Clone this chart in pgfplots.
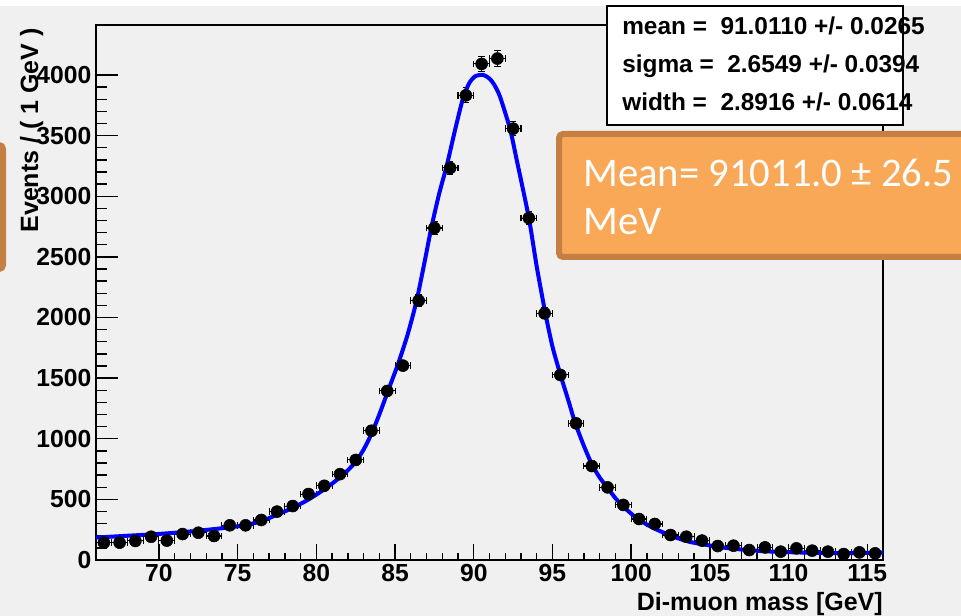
\documentclass[border=0pt]{standalone}
\usepackage{pgfplots}
\pgfplotsset{compat=1.18}
\usepackage{fontspec}
\setmainfont{Liberation Sans}
\newfontfamily\carlito{Carlito}
\definecolor{bgc}{RGB}{240,240,240}
\definecolor{orfill}{RGB}{248,168,87}
\definecolor{orline}{RGB}{196,127,66}
\begin{document}
\begin{tikzpicture}
\begin{scope}[x=0.75pt,y=-0.75pt]
\clip (0,0) rectangle (961,616);
\fill[bgc] (0,0) rectangle (961,616);
\fill[white] (0,0) rectangle (961,6);
\end{scope}
\begin{axis}[
  at={(72pt,-420pt)}, anchor=south west,
  scale only axis, width=590.25pt, height=401.25pt,
  xmin=66, xmax=116, ymin=0, ymax=4412,
  xtick={70,75,...,115}, minor x tick num=4,
  ytick={0,500,...,4000}, minor y tick num=4,
  tick align=inside, xtick pos=left, ytick pos=left,
  axis line style={line width=1pt, black},
  every tick/.style={black, line width=1pt},
  xtick style={/pgfplots/major tick length=12pt, /pgfplots/minor tick length=5.5pt},
  ytick style={/pgfplots/major tick length=16.5pt, /pgfplots/minor tick length=8.25pt},
  ticklabel style={font=\bfseries\fontsize{18.5}{20}\selectfont},
  /pgf/number format/assume math mode=true,
  /pgf/number format/1000 sep={},
  axis background/.style={fill=bgc},
]
\addplot[only marks, mark=*, mark size=4.5pt, black,
  error bars/.cd, x dir=both, x fixed=0.5, y dir=both, y explicit,
  error bar style={line width=0.8pt, black},
  error mark options={rotate=90, mark size=2.5pt, line width=0.8pt, black}]
table[x=x, y=y, y error=ey] {
x y ey
66.5 143 12.0
67.5 143 12.0
68.5 157 12.5
69.5 192 13.9
70.5 160 12.6
71.5 214 14.6
72.5 225 15.0
73.5 198 14.1
74.5 286 16.9
75.5 286 16.9
76.5 330 18.2
77.5 399 20.0
78.5 445 21.1
79.5 544 23.3
80.5 612 24.7
81.5 708 26.6
82.5 825 28.7
83.5 1066 32.6
84.5 1394 37.3
85.5 1603 40.0
86.5 2139 46.2
87.5 2738 52.3
88.5 3233 56.9
89.5 3832 61.9
90.5 4091 64.0
91.5 4135 64.3
92.5 3557 59.6
93.5 2820 53.1
94.5 2034 45.1
95.5 1526 39.1
96.5 1127 33.6
97.5 775 27.8
98.5 599 24.5
99.5 454 21.3
100.5 338 18.4
101.5 297 17.2
102.5 206 14.4
103.5 192 13.9
104.5 160 12.6
105.5 115 10.7
106.5 118 10.9
107.5 82 9.1
108.5 104 10.2
109.5 69 8.3
110.5 96 9.8
111.5 77 8.8
112.5 69 8.3
113.5 49 7.0
114.5 63 7.9
115.5 55 7.4
};
\addplot[color={rgb,255:red,0;green,0;blue,255}, line width=3pt, smooth, tension=0.4] table {
66.0 185
68.0 200
70.0 215
72.0 235
74.0 262
75.4 285
76.5 320
77.4 368
78.5 430
79.45 495
80.3 565
81.0 630
81.5 682
82.0 740
82.5 810
83.0 910
83.5 1040
84.0 1200
84.55 1394
85.2 1620
85.8 1860
86.37 2139
86.9 2474
87.3 2738
87.8 3020
88.3 3260
88.8 3540
89.3 3800
89.7 3930
90.1 3990
90.6 4000
91.0 3970
91.3 3920
91.67 3820
92.3 3557
92.73 3299
93.5 2821
94.0 2420
94.55 2034
95.0 1760
95.5 1530
96.0 1320
96.45 1127
97.0 940
97.5 790
98.0 680
98.44 605
99.0 510
99.5 440
100.45 335
101.5 258
102.7 192
103.7 150
104.8 124
106.0 100
106.9 88
108.0 76
109.0 69
111.0 61
113.3 56
115.0 58
116.0 62
};
\end{axis}
\begin{scope}[x=0.75pt,y=-0.75pt]
\clip (0,0) rectangle (961,616);
% axis titles
\node[rotate=90, anchor=base east, inner sep=0pt, font=\bfseries\fontsize{18.75}{20}\selectfont] at (38,28) {Events / ( 1 GeV )};
\node[anchor=base east, inner sep=0pt, font=\bfseries\fontsize{18.75}{20}\selectfont] at (883,610) {Di-muon mass [GeV]};
% stats box
\filldraw[fill=white, draw=black, line width=0.9pt] (607,6) rectangle (903,125);
\begin{scope}[every node/.style={anchor=base west, inner sep=0pt, font=\bfseries\fontsize{18.3}{20}\selectfont}]
\node at (622,35) {mean =~~91.0110 +/- 0.0265};
\node at (622,73) {sigma =~~2.6549 +/- 0.0394};
\node at (622,111) {width =~~2.8916 +/- 0.0614};
\end{scope}
% orange boxes
\filldraw[fill=orfill, draw=orline, line width=4.5pt, rounded corners=3pt] (-30,145) rectangle (3,269);
\filldraw[fill=orfill, draw=orline, line width=4.5pt, rounded corners=3pt] (559,134) rectangle (1010,257);
\begin{scope}[every node/.style={anchor=base west, inner sep=0pt, text=white, font=\carlito\fontsize{30.5}{36}\selectfont}]
\node at (583,187) {Mean= 91011.0 ± 26.5};
\node at (583,235) {MeV};
\end{scope}
\end{scope}
\useasboundingbox (0,0) rectangle (720.75pt,-462pt);
\end{tikzpicture}
\end{document}
